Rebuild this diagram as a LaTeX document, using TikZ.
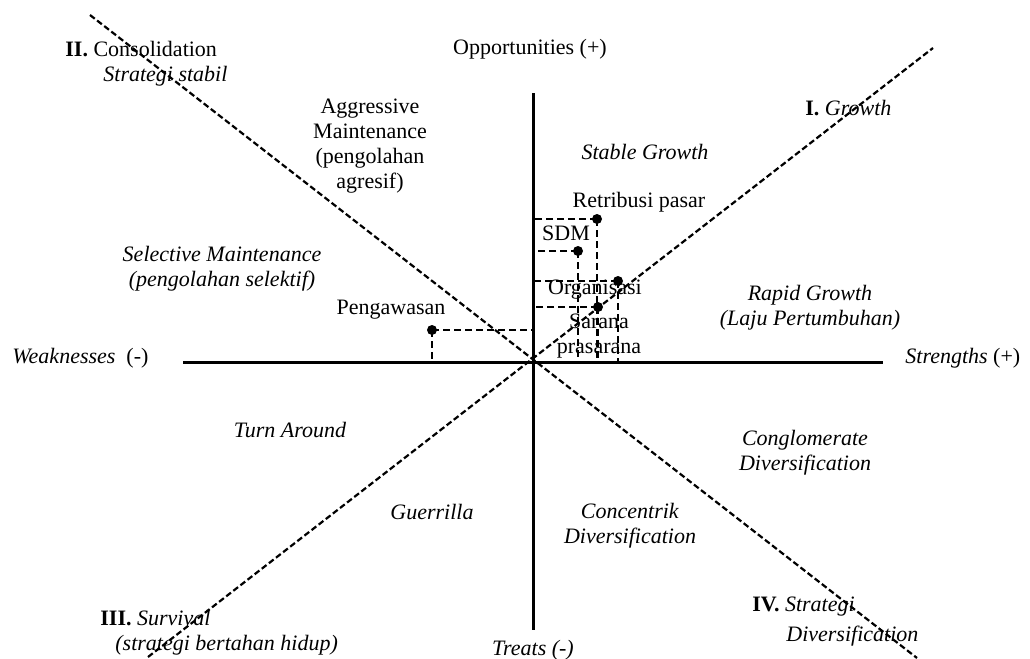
\documentclass[tikz,border=0pt]{standalone}
\usepackage{fontspec}
\setmainfont{Liberation Serif}
\begin{document}
\begin{tikzpicture}[x=0.5pt,y=-0.5pt,font=\fontsize{11}{12.5}\selectfont]
\tikzset{
  axis/.style={line width=1.5pt},
  diag/.style={line width=1.1pt, dash pattern=on 3pt off 1.5pt},
  guide/.style={line width=0.9pt, dash pattern=on 3.5pt off 2pt},
  dot/.style={circle, fill, inner sep=0pt, minimum size=5pt},
  lbl/.style={inner sep=1pt, align=center},
}
\useasboundingbox (0,0) rectangle (1030,659);
% axes
\coordinate (O) at (533,362);
\coordinate (W) at (183,362);
\coordinate (E) at (883,362);
\coordinate (N) at (533,93);
\coordinate (S) at (533,630);
\draw[axis] (W) -- (E);
\draw[axis] (N) -- (S);
% quadrant diagonals
\coordinate (NE) at (933,48);
\coordinate (SW) at (148,657);
\coordinate (NW) at (90,15);
\coordinate (SE) at (917,658);
\draw[diag] (SW) -- (NE);
\draw[diag] (NW) -- (SE);
% factor points with their guides to the axes
\node[dot] (ret) at (597,219) {};
\node[dot] (sdm) at (578,251) {};
\node[dot] (org) at (618,281) {};
\node[dot] (sar) at (598,307) {};
\node[dot] (pen) at (432,330) {};
\foreach \p in {ret,sdm,org,sar,pen}
  \draw[guide] (\p.center) -- (\p.center |- O) (\p.center) -- (\p.center -| O);
% axis labels
\node[lbl] (opp) at (530,49) {Opportunities (+)};
\node[lbl] (tre) at (533,650) {\textit{Treats (-)}};
\node[lbl, anchor=west] (wea) at (10,358) {\textit{Weaknesses}\ \ (-)};
\node[lbl, anchor=west] (str) at (903,358) {\textit{Strengths} (+)};
% quadrant names
\node[lbl, anchor=west] (q2) at (63,49) {\textbf{II.} Consolidation};
\node[lbl, anchor=west] (q2b) at (101,76) {\textit{Strategi stabil}};
\node[lbl, anchor=west] (q1) at (803,108) {\textbf{I.} \textit{Growth}};
\node[lbl, anchor=west] (q3) at (98,618) {\textbf{III.} \textit{Survival}};
\node[lbl, anchor=west] (q3b) at (113,645) {\textit{(strategi bertahan hidup)}};
\node[lbl, anchor=west] (q4) at (750,607) {\textbf{IV.} \textit{Strategi}};
\node[lbl, anchor=west] (q4b) at (784,636) {\textit{Diversification}};
% strategy areas
\node[lbl] (agr) at (370,146) {Aggressive\\Maintenance\\(pengolahan\\agresif)};
\node[lbl] (stab) at (645,152) {\textit{Stable Growth}};
\node[lbl] (sel) at (222,269) {\textit{Selective Maintenance}\\\textit{(pengolahan selektif)}};
\node[lbl] (rap) at (810,308) {\textit{Rapid Growth}\\\textit{(Laju Pertumbuhan)}};
\node[lbl] (turn) at (290,430) {\textit{Turn Around}};
\node[lbl] (cong) at (805,453) {\textit{Conglomerate}\\\textit{Diversification}};
\node[lbl] (gue) at (432,512) {\textit{Guerrilla}};
\node[lbl] (conc) at (630,526) {\textit{Concentrik}\\\textit{Diversification}};
% factor names
\node[lbl] (retl) at (639,202) {Retribusi pasar};
\node[lbl] (sdml) at (566,233) {SDM};
\node[lbl] (orgl) at (595,290) {Organisasi};
\node[lbl] (sarl) at (599,336) {Sarana\\prasarana};
\node[lbl] (penl) at (391,310) {Pengawasan};
\end{tikzpicture}
\end{document}
